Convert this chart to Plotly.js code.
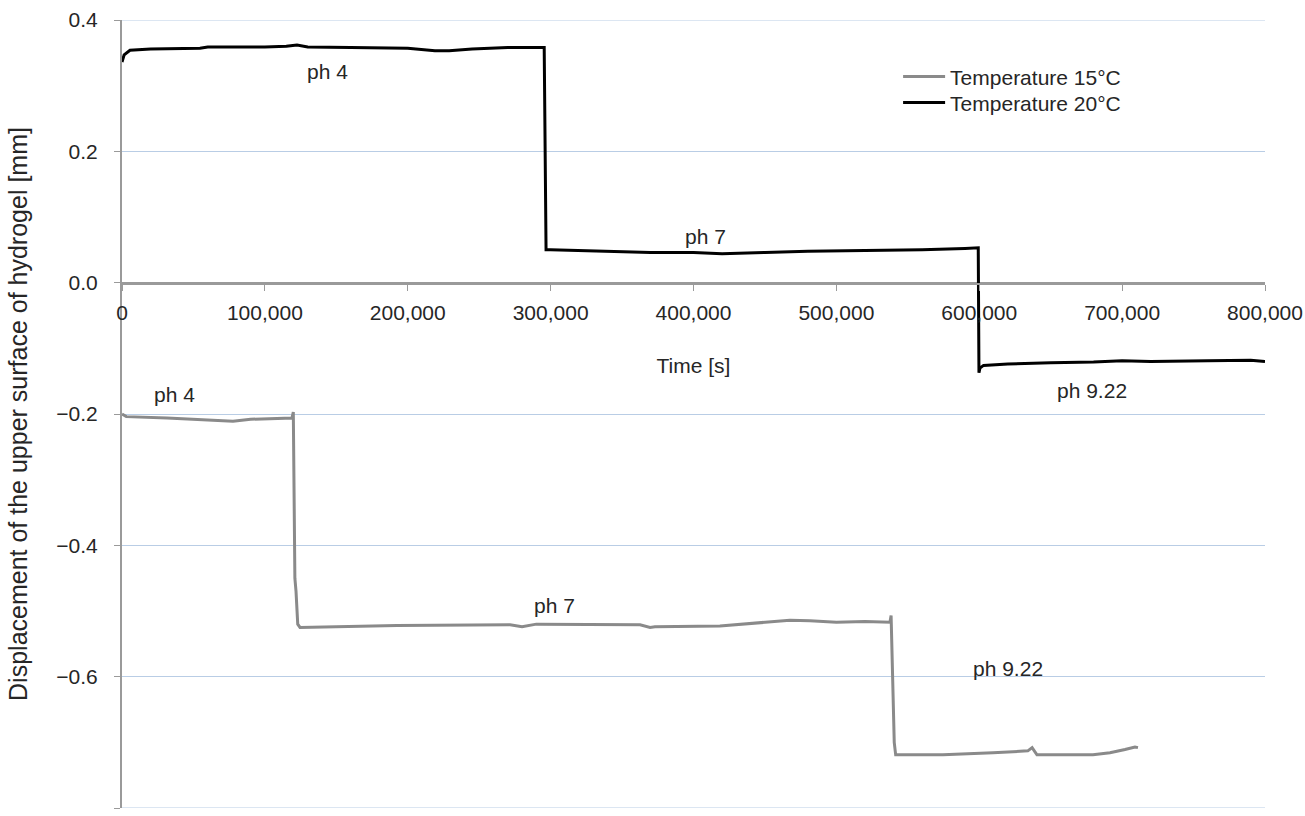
<!DOCTYPE html>
<html>
<head>
<meta charset="utf-8">
<script src="https://cdn.plot.ly/plotly-3.0.1.min.js"></script>
<style>
html,body{margin:0;padding:0;background:#fff;}
#chart{width:1305px;height:816px;}
</style>
</head>
<body>
<div id="chart"></div>
<script>
// Temperature 20°C series (time in s, displacement in mm)
const t20 = [0, 1500, 5600, 20000, 54600, 60000, 100000, 115000, 122500, 130000, 160000, 200000, 219000, 229000, 245000, 270000, 295500, 296800, 300000, 320000, 345000, 370000, 400000, 420000, 450000, 480000, 520000, 560000, 590000, 599300, 599800, 600500, 603000, 620000, 650000, 680000, 700000, 720000, 760000, 790000, 800000];
const d20 = [0.336, 0.347, 0.354, 0.356, 0.357, 0.359, 0.359, 0.360, 0.362, 0.359, 0.358, 0.357, 0.353, 0.353, 0.356, 0.358, 0.358, 0.050, 0.050, 0.049, 0.048, 0.046, 0.046, 0.044, 0.046, 0.048, 0.049, 0.050, 0.052, 0.053, -0.137, -0.130, -0.126, -0.124, -0.122, -0.121, -0.119, -0.120, -0.119, -0.118, -0.120];

// Temperature 15°C series
const t15 = [0, 3000, 31500, 77700, 90000, 110000, 119000, 119900, 120300, 121000, 121800, 123000, 124600, 159600, 192500, 271600, 280000, 290000, 327600, 362600, 369600, 373000, 418500, 460500, 467500, 481500, 500000, 520000, 537500, 538300, 539200, 540500, 541500, 574600, 609600, 634000, 637000, 640400, 679600, 691500, 702000, 709000, 711100];
const d15 = [-0.200, -0.204, -0.206, -0.211, -0.208, -0.207, -0.206, -0.197, -0.300, -0.450, -0.470, -0.520, -0.525, -0.524, -0.522, -0.521, -0.524, -0.520, -0.520, -0.521, -0.525, -0.524, -0.523, -0.516, -0.514, -0.515, -0.517, -0.516, -0.517, -0.507, -0.600, -0.700, -0.719, -0.719, -0.716, -0.713, -0.708, -0.719, -0.719, -0.716, -0.711, -0.707, -0.708];

// Phase labels
const labelText = ["ph 4", "ph 7", "ph 9.22", "ph 4", "ph 7", "ph 9.22"];
const labelX = [143500, 408700, 678900, 36400, 303000, 620100];
const labelY = [0.321, 0.070, -0.164, -0.171, -0.492, -0.587];

const yTicks = [-0.8, -0.6, -0.4, -0.2, 0.0, 0.2, 0.4];
const xTicks = [0, 100000, 200000, 300000, 400000, 500000, 600000, 700000, 800000];
const yMin = -0.8, yMax = 0.4;

const font = {family: "Liberation Sans, Arial, sans-serif", size: 21, color: "#262626"};
const yTitleFont = {family: "Liberation Sans, Arial, sans-serif", size: 25, color: "#262626"};
const gridColor = "#b9cde5";

const traces = [
  {x: t15, y: d15, name: "Temperature 15°C", mode: "lines", type: "scatter",
   line: {color: "#8a8a8a", width: 3}, legend: "legend"},
  {x: t20, y: d20, name: "Temperature 20°C", mode: "lines", type: "scatter",
   line: {color: "#000000", width: 3}, legend: "legend2"}
];

const annotations = labelText.map((t, i) => ({
  x: labelX[i], y: labelY[i], xref: "x", yref: "y", text: t,
  showarrow: false, font: font
}));

const legendBase = {x: 0.679, xanchor: "left", yanchor: "top",
  bgcolor: "rgba(0,0,0,0)", font: font, itemwidth: 42};

const layout = {
  width: 1305, height: 816,
  margin: {l: 122, r: 40, t: 20, b: 8},
  paper_bgcolor: "#fff", plot_bgcolor: "#fff",
  font: font,
  showlegend: true,
  legend: Object.assign({}, legendBase, {y: 0.9538}),
  legend2: Object.assign({}, legendBase, {y: 0.9208}),
  xaxis: {
    range: [0, 800000], tickvals: xTicks, tickformat: ",",
    anchor: "free", position: 0.665,
    showline: true, linecolor: "#9a9a9a", linewidth: 2,
    ticks: "outside", ticklen: 6, tickcolor: "#9a9a9a", tickwidth: 1,
    ticklabelstandoff: 4,
    showgrid: false, zeroline: false,
    title: {text: "Time [s]", font: font, standoff: 34},
    tickfont: font
  },
  yaxis: {
    range: [yMin, yMax], tickvals: yTicks, tickformat: ".1f",
    showline: true, linecolor: "#9a9a9a", linewidth: 2,
    ticks: "outside", ticklen: 6, tickcolor: "#9a9a9a", tickwidth: 1,
    ticklabelstandoff: 12,
    showgrid: true, gridcolor: gridColor, gridwidth: 1,
    zeroline: true, zerolinecolor: "#9a9a9a", zerolinewidth: 2,
    title: {text: "Displacement of the upper surface of hydrogel [mm]", font: yTitleFont, standoff: 22},
    tickfont: font
  },
  shapes: [yMax, yMin].map(v => ({
    type: "line", xref: "paper", yref: "y", x0: 0, x1: 1, y0: v, y1: v,
    line: {color: gridColor, width: 1}, layer: "below"
  })),
  annotations: annotations
};

Plotly.newPlot("chart", traces, layout, {displayModeBar: false, staticPlot: true});
</script>
</body>
</html>
